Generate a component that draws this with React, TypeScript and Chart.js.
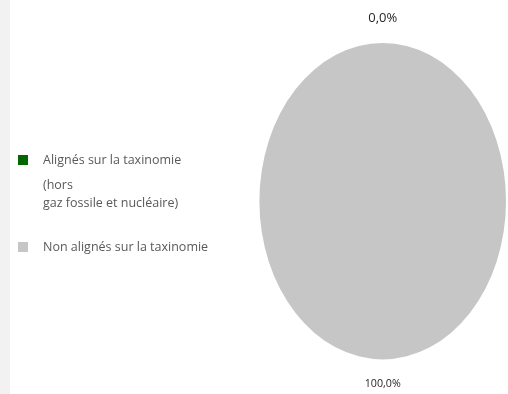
import React, { useEffect, useRef } from "react";
import { Chart, registerables } from "chart.js";

Chart.register(...registerables);

// Share of investments aligned with the taxonomy
const categories = ["Alignés sur la taxinomie", "Non alignés sur la taxinomie"];
const shares = [0, 100];
const sliceColors = ["#006600", "#c6c6c6"];
const valueLabels = ["0,0%", "100,0%"];
// Legend text, one entry per category, each a list of lines
const legendLines = [
  ["Alignés sur la taxinomie", "(hors", "gaz fossile et nucléaire)"],
  ["Non alignés sur la taxinomie"],
];

const FONT = "'Open Sans', sans-serif";
const Y_STRETCH = 158.2 / 123.3;

// Stretches the pie vertically into an ellipse around its centre
const ellipsePlugin = {
  id: "ellipse",
  beforeDatasetsDraw(chart: any) {
    const arc = chart.getDatasetMeta(0).data[0];
    if (!arc) return;
    const { x, y } = arc.getProps(["x", "y"], true);
    const ctx = chart.ctx;
    ctx.save();
    ctx.translate(x, y);
    ctx.scale(1, Y_STRETCH);
    ctx.translate(-x, -y);
  },
  afterDatasetsDraw(chart: any) {
    chart.ctx.restore();
  },
};

// Percentage labels placed outside each slice, at its mid-angle
const valueLabelPlugin = {
  id: "valueLabels",
  afterDraw(chart: any) {
    const ctx = chart.ctx;
    const meta = chart.getDatasetMeta(0);
    const sizes = [13, 10.7];
    meta.data.forEach((arc: any, i: number) => {
      const { x, y, startAngle, endAngle, outerRadius } = arc.getProps(
        ["x", "y", "startAngle", "endAngle", "outerRadius"],
        true
      );
      const mid = (startAngle + endAngle) / 2;
      const gap = 25;
      const lx = x + Math.cos(mid) * (outerRadius + gap);
      const ly = y + Math.sin(mid) * (outerRadius * Y_STRETCH + gap);
      ctx.save();
      ctx.font = `${sizes[i]}px ${FONT}`;
      ctx.fillStyle = "#262626";
      ctx.textAlign = "center";
      ctx.textBaseline = "middle";
      ctx.fillText(valueLabels[i], lx, ly);
      ctx.restore();
    });
  },
};

// Legend on the left with square markers and multi-line text
const sideLegendPlugin = {
  id: "sideLegend",
  afterDraw(chart: any) {
    const ctx = chart.ctx;
    const boxX = 18;
    const textX = 43;
    const lineOffsets = [
      [0, 25, 43],
      [0],
    ];
    const rowY = [160, 247];
    ctx.save();
    ctx.font = `12.5px ${FONT}`;
    ctx.textBaseline = "middle";
    ctx.textAlign = "left";
    legendLines.forEach((lines, i) => {
      ctx.fillStyle = sliceColors[i];
      ctx.fillRect(boxX, rowY[i] - 5, 10, 10);
      ctx.fillStyle = "#595959";
      lines.forEach((line, j) => {
        ctx.fillText(line, textX, rowY[i] + lineOffsets[i][j]);
      });
    });
    ctx.restore();
  },
};

export default function App() {
  const canvasRef = useRef<HTMLCanvasElement | null>(null);

  useEffect(() => {
    document.body.style.margin = "0";
    const canvas = canvasRef.current;
    if (!canvas) return;
    const chart = new Chart(canvas, {
      type: "pie",
      data: {
        labels: categories,
        datasets: [
          {
            data: shares,
            backgroundColor: sliceColors,
            borderWidth: 0,
            hoverOffset: 0,
            offset: 0,
          },
        ],
      },
      options: {
        animation: false,
        responsive: false,
        events: [],
        layout: {
          padding: { left: 259.4, right: 2, top: 77.9, bottom: 69.5 },
        },
        plugins: {
          legend: { display: false },
          tooltip: { enabled: false },
        },
      },
      plugins: [ellipsePlugin, valueLabelPlugin, sideLegendPlugin],
    });
    return () => chart.destroy();
  }, []);

  return (
    <div style={{ position: "relative", width: 508, height: 394, background: "#ffffff" }}>
      <div
        style={{
          position: "absolute",
          left: 0,
          top: 0,
          width: 10,
          height: 394,
          background: "#f2f2f2",
        }}
      />
      <canvas
        ref={canvasRef}
        width={508}
        height={394}
        style={{ position: "absolute", left: 0, top: 0, width: 508, height: 394 }}
      />
    </div>
  );
}
